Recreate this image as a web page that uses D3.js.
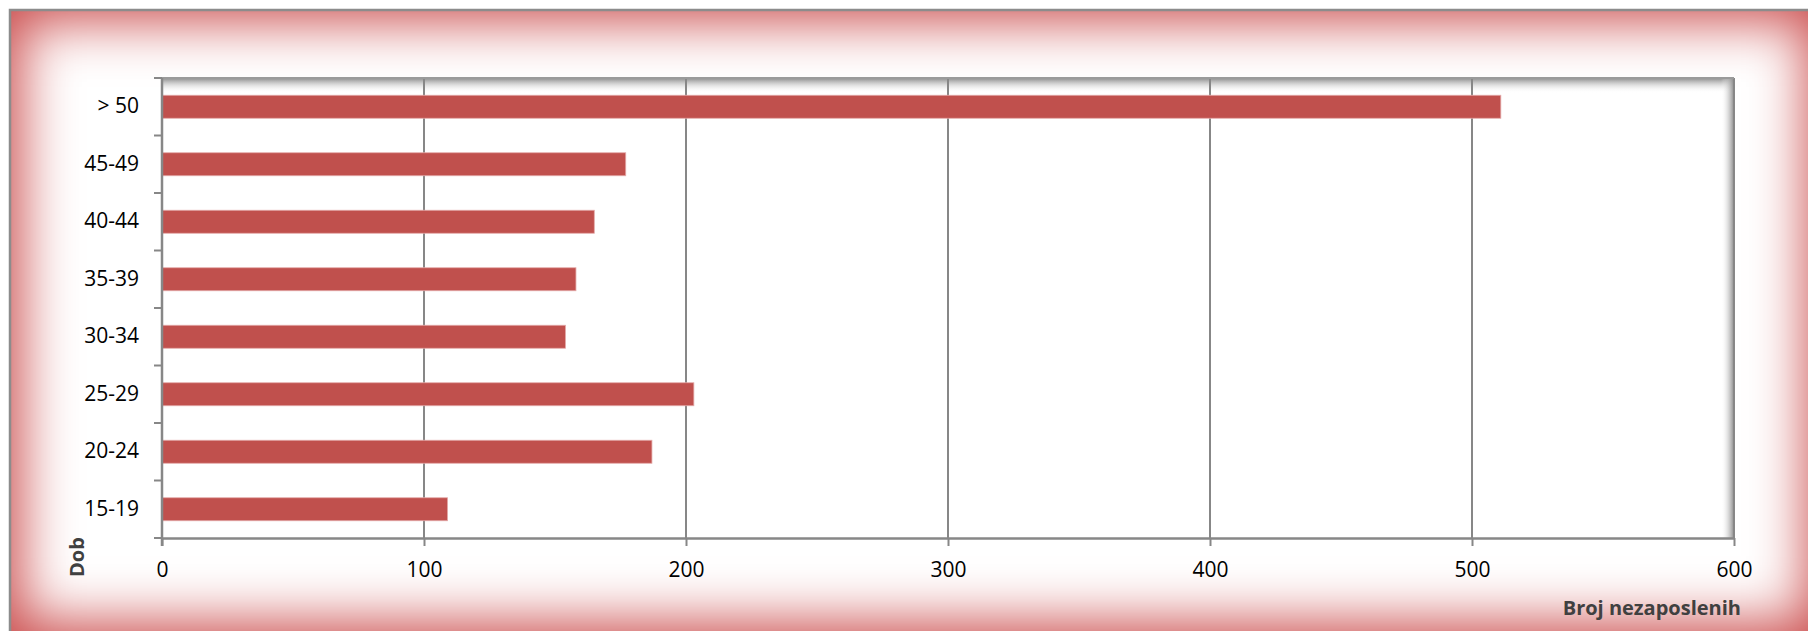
<!DOCTYPE html>
<html>
  <head>
    <meta charset="utf-8">
    <title>Broj nezaposlenih po dobi</title>
    <script src="https://d3js.org/d3.v7.min.js"></script>
    <style>
      body { margin: 0; background: #fff; }
      text { font-family: "Open Sans", "DejaVu Sans", sans-serif; }
      .tick text { font-size: 21px; fill: #000; }
      .axis-title { font-size: 20px; font-weight: bold; fill: #404040; }
    </style>
  </head>
  <body>
    <div id="chart"></div>
    <script>
      // Data
      const categories = ["15-19", "20-24", "25-29", "30-34", "35-39", "40-44", "45-49", "> 50"];
      const values = [109, 187, 203, 154, 158, 165, 177, 511];
      const xTicks = [0, 100, 200, 300, 400, 500, 600];
      const xTitle = "Broj nezaposlenih";
      const yTitle = "Dob";

      const W = 1808, H = 631;
      const plot = { left: 162, top: 78, right: 1734, bottom: 538 };

      const svg = d3.select("#chart").append("svg")
        .attr("width", W).attr("height", H);

      const defs = svg.append("defs");

      // soft red glow round the chart area
      defs.append("filter")
        .attr("id", "glow")
        .attr("filterUnits", "userSpaceOnUse")
        .attr("x", -100).attr("y", -100).attr("width", W + 200).attr("height", H + 200)
        .append("feGaussianBlur").attr("stdDeviation", 27);

      const topShade = defs.append("linearGradient").attr("id", "topShade")
        .attr("x1", 0).attr("y1", 0).attr("x2", 0).attr("y2", 1);
      topShade.append("stop").attr("offset", "0%").attr("stop-color", "#8a8a8a").attr("stop-opacity", 1);
      topShade.append("stop").attr("offset", "100%").attr("stop-color", "#ffffff").attr("stop-opacity", 0);

      const rightShade = defs.append("linearGradient").attr("id", "rightShade")
        .attr("x1", 0).attr("y1", 0).attr("x2", 1).attr("y2", 0);
      rightShade.append("stop").attr("offset", "0%").attr("stop-color", "#ffffff").attr("stop-opacity", 0);
      rightShade.append("stop").attr("offset", "100%").attr("stop-color", "#8a8a8a").attr("stop-opacity", 1);

      // chart area
      const box = { x: 10, y: 10, w: 1808, h: 623 };
      svg.append("rect")
        .attr("x", box.x).attr("y", box.y).attr("width", box.w).attr("height", box.h)
        .attr("fill", "#cc5050");
      svg.append("rect")
        .attr("x", box.x + 12).attr("y", box.y + 12).attr("width", box.w - 24).attr("height", box.h - 24)
        .attr("fill", "#ffffff")
        .attr("filter", "url(#glow)");
      svg.append("rect")
        .attr("x", box.x).attr("y", box.y).attr("width", box.w + 20).attr("height", box.h + 20)
        .attr("fill", "none").attr("stroke", "#8c8c8c").attr("stroke-width", 2.5);

      // plot area
      svg.append("rect")
        .attr("x", plot.left).attr("y", plot.top)
        .attr("width", plot.right - plot.left).attr("height", plot.bottom - plot.top)
        .attr("fill", "#ffffff");
      svg.append("rect")
        .attr("x", plot.left).attr("y", plot.top)
        .attr("width", plot.right - plot.left).attr("height", 15)
        .attr("fill", "url(#topShade)");
      svg.append("rect")
        .attr("x", plot.right - 13).attr("y", plot.top)
        .attr("width", 13).attr("height", plot.bottom - plot.top)
        .attr("fill", "url(#rightShade)");

      // scales
      const x = d3.scaleLinear().domain([0, 600]).range([plot.left, plot.right]);
      const y = d3.scaleBand().domain(categories).range([plot.bottom, plot.top])
        .paddingInner(0.6).paddingOuter(0.3);

      // gridlines
      svg.append("g").selectAll("line")
        .data(xTicks.slice(1))
        .enter().append("line")
        .attr("x1", (d) => x(d)).attr("x2", (d) => x(d))
        .attr("y1", plot.top).attr("y2", plot.bottom)
        .attr("stroke", "#878787").attr("stroke-width", 2);
      svg.append("line")
        .attr("x1", plot.left).attr("x2", plot.right)
        .attr("y1", plot.top).attr("y2", plot.top)
        .attr("stroke", "#9a9a9a").attr("stroke-width", 2);

      // bars
      svg.append("g").selectAll("rect")
        .data(categories)
        .enter().append("rect")
        .attr("x", x(0))
        .attr("y", (d) => y(d))
        .attr("width", (d, i) => x(values[i]) - x(0))
        .attr("height", y.bandwidth())
        .attr("fill", "#c0504d")
        .attr("stroke", "#e4aaa9").attr("stroke-width", 0.8);

      // x axis
      const xAxis = svg.append("g")
        .attr("transform", `translate(0, ${plot.bottom})`)
        .call(d3.axisBottom(x).tickValues(xTicks).tickSize(8).tickPadding(16).tickSizeOuter(0));
      xAxis.select(".domain").attr("stroke", "#878787").attr("stroke-width", 2.5);
      xAxis.selectAll(".tick line").attr("stroke", "#878787").attr("stroke-width", 2);

      // y axis: labels from the band scale, ticks at category boundaries
      const yAxis = svg.append("g")
        .attr("transform", `translate(${plot.left}, 0)`)
        .call(d3.axisLeft(y).tickSize(0).tickPadding(23));
      yAxis.select(".domain").remove();
      yAxis.append("line")
        .attr("x1", 0).attr("x2", 0)
        .attr("y1", plot.top).attr("y2", plot.bottom + 8)
        .attr("stroke", "#878787").attr("stroke-width", 2.5);
      yAxis.selectAll(".bound")
        .data(d3.range(categories.length + 1))
        .enter().append("line")
        .attr("class", "bound")
        .attr("x1", -8).attr("x2", 0)
        .attr("y1", (i) => plot.bottom - i * y.step())
        .attr("y2", (i) => plot.bottom - i * y.step())
        .attr("stroke", "#878787").attr("stroke-width", 2);

      // axis titles
      svg.append("text")
        .attr("class", "axis-title")
        .attr("x", 1741).attr("y", 615)
        .style("text-anchor", "end")
        .text(xTitle);
      svg.append("text")
        .attr("class", "axis-title")
        .attr("transform", "translate(84, 577) rotate(-90)")
        .style("text-anchor", "start")
        .text(yTitle);
    </script>
  </body>
</html>
